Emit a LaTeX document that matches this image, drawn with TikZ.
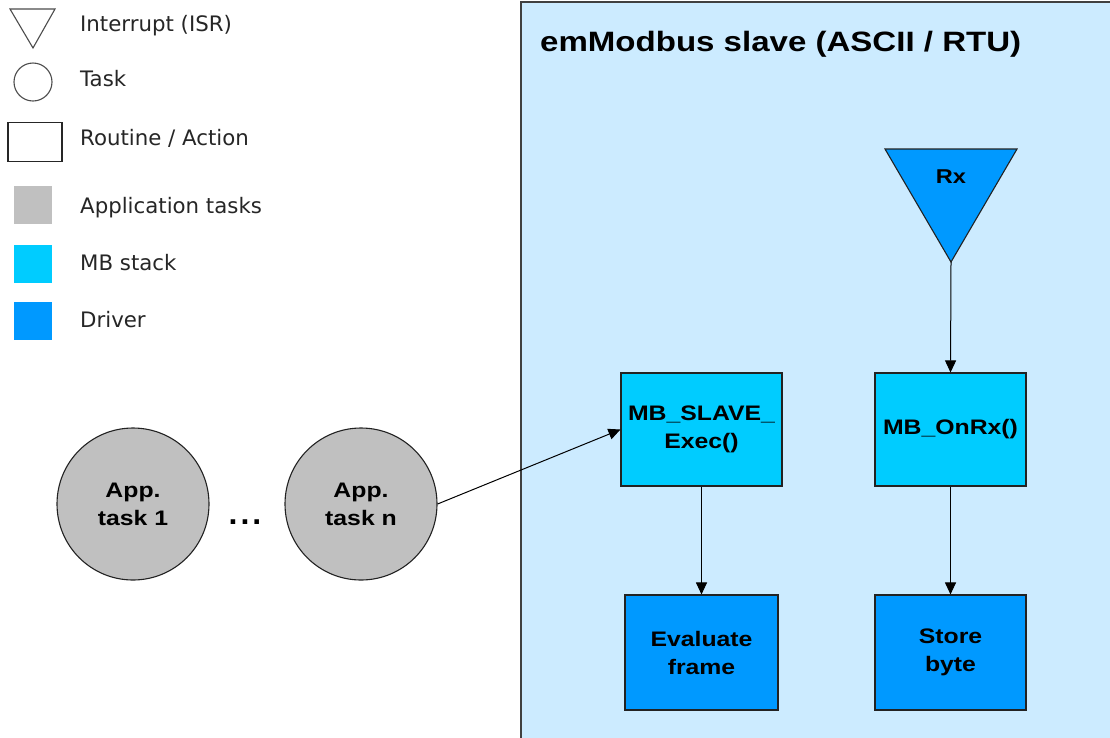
\documentclass[tikz,border=0pt]{standalone}
\usepackage{fontspec}
\setmainfont{Liberation Sans}
\newfontfamily\widesans[FakeStretch=1.18]{Liberation Sans}
\newfontfamily\legfont{DejaVu Sans}
\usetikzlibrary{arrows.meta}
\definecolor{bgblue}{HTML}{CCEBFF}
\definecolor{mbstack}{HTML}{00CCFF}
\definecolor{driverc}{HTML}{0099FF}
\definecolor{apptask}{HTML}{C0C0C0}
\definecolor{edge}{HTML}{222222}
\begin{document}
\begin{tikzpicture}[x=1pt,y=-1pt,
  box/.style={draw=edge, line width=1.1pt, inner sep=0pt, align=center,
    font=\widesans\fontsize{21}{28}\selectfont\bfseries},
  task/.style={circle, draw=edge, line width=1.1pt, fill=apptask, inner sep=0pt,
    minimum size=152pt, align=center, font=\widesans\fontsize{21}{28}\selectfont\bfseries},
  legtext/.style={anchor=base west, inner sep=0pt, font=\legfont\fontsize{21.3}{24}\selectfont, text=black!85},
  legsq/.style={inner sep=0pt, minimum size=38pt},
  conn/.style={draw=black, line width=1pt, -{Triangle[length=12pt,width=11pt]}}
]
\useasboundingbox (0,0) rectangle (1110,737);
\clip (0,0) rectangle (1110,737);
\fill[white] (0,0) rectangle (1110,737);

% legend
\draw[draw=black!70, line width=1.1pt] (10,9) -- (55,9) -- (33,48) -- cycle;
\node[legtext] (lisr) at (80,31.5) {Interrupt (ISR)};
\node[circle, draw=black!70, line width=1.1pt, minimum size=38pt, inner sep=0pt] (ltask) at (33,82) {};
\node[legtext] (ltasktxt) at (80,86) {Task};
\node[draw=black!85, line width=1.3pt, minimum width=54pt, minimum height=39pt, inner sep=0pt] (lrout) at (35,142) {};
\node[legtext] (lrouttxt) at (80,145) {Routine / Action};
\node[legsq, fill=apptask] (lapp) at (33,204.5) {};
\node[legtext] (lapptxt) at (80,213.5) {Application tasks};
\node[legsq, fill=mbstack] (lmb) at (33,263.5) {};
\node[legtext] (lmbtxt) at (80,270) {MB stack};
\node[legsq, fill=driverc] (ldrv) at (33,321) {};
\node[legtext] (ldrvtxt) at (80,327) {Driver};

% slave frame
\draw[fill=bgblue, draw=black!75, line width=1.1pt] (521,2) rectangle (1130,760);
\node[anchor=base west, inner sep=0pt, font=\widesans\fontsize{28}{30}\selectfont\bfseries] (title) at (540,51) {emModbus slave (ASCII / RTU)};

% Rx triangle
\draw[fill=driverc, draw=edge, line width=1.1pt] (885,149) -- (1017,149) -- (951,262) -- cycle;
\coordinate (rxapex) at (951,262);
\node[font=\widesans\fontsize{20}{24}\selectfont\bfseries, inner sep=0pt] (rx) at (951,177) {Rx};

% boxes
\node[box, fill=mbstack, minimum width=161pt, minimum height=113pt] (exec) at (701.5,429.5) {MB\_SLAVE\_\\Exec()};
\node[box, fill=mbstack, minimum width=151pt, minimum height=113pt] (onrx) at (950.5,429.5) {MB\_OnRx()};
\node[box, fill=driverc, minimum width=153pt, minimum height=115pt] (eval) at (701.5,652.5) {Evaluate\\frame};
\node[box, fill=driverc, minimum width=151pt, minimum height=115pt] (store) at (950.5,652.5) {Store\\byte};

% tasks
\node[task] (t1) at (133,504) {App.\\task 1};
\node[task] (tn) at (361,504) {App.\\task n};
\node[inner sep=0pt, font=\fontsize{32}{32}\selectfont\bfseries] (dots) at (245,522) {.\hspace{3pt}.\hspace{3pt}.};

% connectors
\draw[conn] (tn.east) -- (exec.west);
\draw[conn] (exec.south) -- (eval.north);
\draw[conn] (rxapex) -- (onrx.north);
\draw[conn] (onrx.south) -- (store.north);
\end{tikzpicture}
\end{document}
